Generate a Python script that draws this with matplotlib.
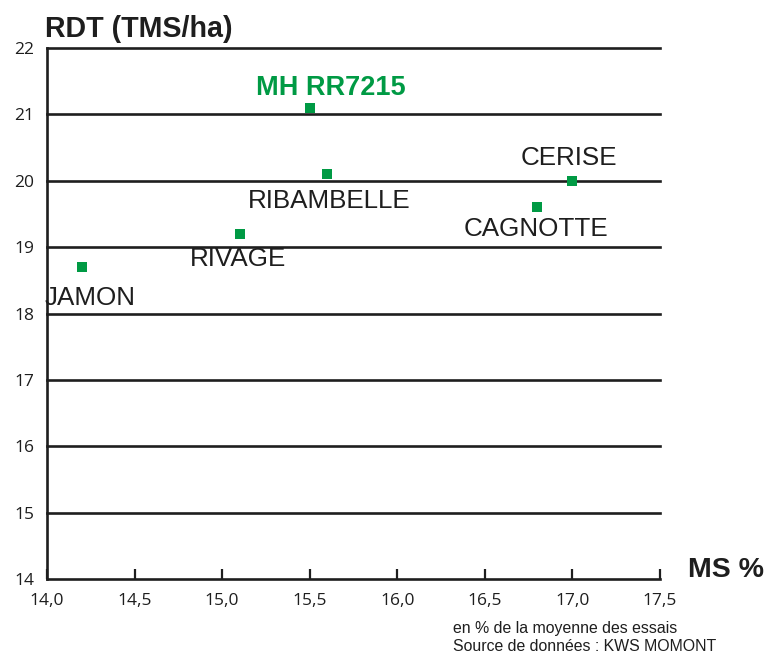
import matplotlib
matplotlib.use("Agg")
import matplotlib.pyplot as plt

# data
varieties = ["MH RR7215", "RIBAMBELLE", "CERISE", "CAGNOTTE", "RIVAGE", "JAMON"]
ms_pct = [15.5, 15.6, 17.0, 16.8, 15.1, 14.2]
rdt = [21.1, 20.1, 20.0, 19.6, 19.2, 18.7]

x_ticks = [14.0, 14.5, 15.0, 15.5, 16.0, 16.5, 17.0, 17.5]
x_tick_labels = ["14,0", "14,5", "15,0", "15,5", "16,0", "16,5", "17,0", "17,5"]
y_ticks = [14, 15, 16, 17, 18, 19, 20, 21, 22]

# label offsets in pixels relative to the point
label_offsets = {
    "MH RR7215": (21, 20),
    "RIBAMBELLE": (2, -27),
    "CERISE": (-4, 23),
    "CAGNOTTE": (-1, -22),
    "RIVAGE": (-2, -25),
    "JAMON": (8, -31),
}

GREEN = "#009a44"
DARK = "#1e1e1e"

plt.rcParams["font.family"] = ["Liberation Sans", "DejaVu Sans"]

fig = plt.figure(figsize=(7.67, 6.55), dpi=100)
ax = fig.add_axes([0.0613, 0.1160, 0.7992, 0.8107])

ax.set_xlim(14.0, 17.5)
ax.set_ylim(14, 22)

for y in y_ticks[1:]:
    ax.axhline(y, color=DARK, lw=1.9, zorder=1, clip_on=False)

ax.scatter(ms_pct, rdt, marker="s", s=55, color=GREEN, zorder=3, linewidths=0)

for name, x, y in zip(varieties, ms_pct, rdt):
    dx, dy = label_offsets[name]
    if name == "MH RR7215":
        ax.annotate(name, (x, y), xytext=(dx, dy), textcoords="offset pixels",
                    ha="center", va="center", fontsize=19.5, fontweight="bold",
                    color=GREEN)
    else:
        ax.annotate(name, (x, y), xytext=(dx, dy), textcoords="offset pixels",
                    ha="center", va="center", fontsize=18.7, color=DARK)

for side in ["top", "right"]:
    ax.spines[side].set_visible(False)
for side in ["left", "bottom"]:
    ax.spines[side].set_color(DARK)
    ax.spines[side].set_linewidth(1.9)

ax.set_xticks(x_ticks)
ax.set_xticklabels(x_tick_labels, family="Open Sans", fontsize=12.5, color=DARK)
ax.set_yticks(y_ticks)
ax.set_yticklabels([str(v) for v in y_ticks], family="Open Sans", fontsize=12.5,
                   color=DARK)
ax.tick_params(axis="x", direction="in", length=7, width=1.6, color=DARK, pad=10)
ax.tick_params(axis="y", length=0, pad=9)

fig.text(45 / 767, 1 - 37 / 655, "RDT (TMS/ha)", fontsize=20.6, fontweight="bold",
         color=DARK, ha="left", va="baseline")
fig.text(688 / 767, 1 - 577 / 655, "MS %", fontsize=20.5, fontweight="bold",
         color=DARK, ha="left", va="baseline")
fig.text(453 / 767, 1 - 633 / 655, "en % de la moyenne des essais", fontsize=11.4,
         color=DARK, ha="left", va="baseline")
fig.text(453 / 767, 1 - 651 / 655, "Source de données : KWS MOMONT", fontsize=11.4,
         color=DARK, ha="left", va="baseline")

fig.savefig("out.png", dpi=100)
